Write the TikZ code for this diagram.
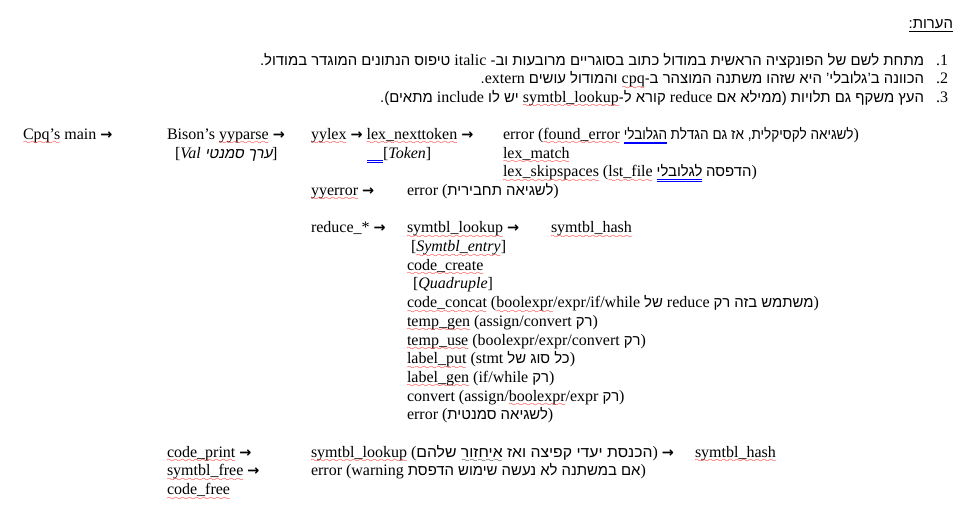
\documentclass[tikz,border=0pt]{standalone}
\usepackage{fontspec}
\setmainfont{Liberation Serif}
\newfontfamily\hebfont[Script=Hebrew,Scale=0.93]{Liberation Sans}
\newfontfamily\hebitfont[Script=Hebrew,Scale=0.93,FakeSlant=0.2]{Liberation Sans}
\newfontfamily\symfont{DejaVu Sans}
\TeXXeTstate=1
\font\wavefont=lasy6
\newdimen\markw
\newcommand\heb[1]{{\hebfont\beginR #1\endR}}
\newcommand\lat[1]{{\rmfamily\beginL #1\endL}}
\newcommand\arr{{\symfont\bfseries\scalebox{0.9}{→}}}
\newcommand\sq[1]{\leavevmode\setbox0=\hbox{#1}\markw=\wd0 \dp0=1.8pt\vtop{\offinterlineskip\box0\hbox to\markw{\color{red}\xleaders\hbox{\wavefont\char58}\hfil}}}
\newcommand\ulbox[1]{\leavevmode\setbox0=\hbox{#1}\markw=\wd0 \dp0=2pt\vtop{\offinterlineskip\box0\hrule width\markw height0.5pt}}
\begin{document}
\begin{tikzpicture}[x=0.75pt,y=-0.75pt,
  t/.style={anchor=base west,inner sep=0pt,outer sep=0pt,font=\fontsize{12pt}{14pt}\selectfont},
  tr/.style={anchor=base east,inner sep=0pt,outer sep=0pt,font=\fontsize{12pt}{14pt}\selectfont},
  dbl/.style={draw=blue,line width=0.5pt}]
\useasboundingbox[fill=white] (0,0) rectangle (979,529);
\def\rowy#1{\fpeval{139.3+18.7*#1}}
% notes
\node[tr] (head) at (953,28) {\ulbox{\hebfont\beginR הערות\hbox{:}\endR}};
\node[tr] (num1) at (948,65) {.1};
\node[tr] (num2) at (948,83.5) {.2};
\node[tr] (num3) at (948,102) {.3};
\node[tr] (note1) at (924,65) {\heb{מתחת לשם של הפונקציה הראשית במודול כתוב בסוגריים מרובעות וב\hbox{-} \lat{italic} טיפוס הנתונים המוגדר במודול\hbox{.}}};
\node[tr] (note2) at (924,83.5) {\heb{הכוונה ב\hbox{’}גלובלי\hbox{’} היא שזהו משתנה המוצהר ב\hbox{-}\lat{\sq{cpq}} והמודול עושים \lat{extern}\hbox{.}}};
\node[tr] (note3) at (924,102) {\heb{העץ משקף גם תלויות \hbox{(}ממילא אם \lat{reduce} קורא ל\hbox{-}\lat{\sq{symtbl\_lookup}} יש לו \lat{include} מתאים\hbox{)}\hbox{.}}};
% tree
\node[t] (cpq) at (23,\rowy{0}) {\sq{Cpq’s} main \arr};
\node[t] (bison) at (167,\rowy{0}) {Bison’s \sq{yyparse} \arr};
\node[t] (yylex) at (311,\rowy{0}) {\sq{yylex} \arr{} \sq{lex\_nexttoken} \arr};
\node[t] (err1) at (503,\rowy{0}) {error (\sq{found\_error}};
\node[t,xshift=3pt] (glob1) at (err1.base east) {\scalebox{0.91}[1]{\hebfont הגלובלי}};
\node[t,xshift=2.7pt] (err1b) at (glob1.base east) {\scalebox{0.91}[1]{\hebfont\beginR לשגיאה לקסיקלית\hbox{,} אז גם הגדלת\endR})};
\draw[dbl] ([yshift=-1.9pt]glob1.base west) -- ([yshift=-1.9pt]glob1.base east);
\draw[dbl] ([yshift=-3.2pt]glob1.base west) -- ([yshift=-3.2pt]glob1.base east);
\node[t] (val) at (175,\rowy{1}) {[\textit{Val} {\hebitfont\beginR ערך סמנטי\endR}]};
\coordinate (tokl) at (367,\rowy{1});
\coordinate (tokr) at (383,\rowy{1});
\node[t] (tok) at (tokr) {[\textit{Token}]};
\draw[dbl] ([yshift=-1.9pt]tokl) -- ([yshift=-1.9pt]tokr);
\draw[dbl] ([yshift=-3.2pt]tokl) -- ([yshift=-3.2pt]tokr);
\node[t] (lexm) at (503,\rowy{1}) {\sq{lex\_match}};
\node[t] (lexs) at (503,\rowy{2}) {\sq{lex\_skipspaces} (\sq{lst\_file}};
\node[t,xshift=3pt] (glob2) at (lexs.base east) {\hebfont לגלובלי};
\node[t,xshift=2.8pt] (lexsb) at (glob2.base east) {\heb{הדפסה})};
\draw[dbl] ([yshift=-1.9pt]glob2.base west) -- ([yshift=-1.9pt]glob2.base east);
\draw[dbl] ([yshift=-3.2pt]glob2.base west) -- ([yshift=-3.2pt]glob2.base east);
\node[t] (yyerr) at (311,\rowy{3}) {\sq{yyerror} \arr};
\node[t] (err2) at (407,\rowy{3}) {error ({\hebfont\beginR לשגיאה תחבירית\endR})};
\node[t] (red) at (311,\rowy{5}) {reduce\_* \arr};
\node[t] (look1) at (407,\rowy{5}) {\sq{symtbl\_lookup} \arr};
\node[t] (hash1) at (551,\rowy{5}) {\sq{symtbl\_hash}};
\node[t] (ent) at (411,\rowy{6}) {[\textit{\sq{Symtbl\_entry}}]};
\node[t] (create) at (407,\rowy{7}) {\sq{code\_create}};
\node[t] (quad) at (413,\rowy{8}) {[\textit{Quadruple}]};
\node[t] (concat) at (407,\rowy{9}) {\sq{code\_concat} (\sq{boolexpr}/expr/if/while \heb{של} reduce {\hebfont\beginR משתמש בזה רק\endR})};
\node[t] (tgen) at (407,\rowy{10}) {\sq{temp\_gen} (assign/convert \heb{רק})};
\node[t] (tuse) at (407,\rowy{11}) {\sq{temp\_use} (boolexpr/expr/convert \heb{רק})};
\node[t] (lput) at (407,\rowy{12}) {\sq{label\_put} (stmt {\hebfont\beginR כל סוג של\endR})};
\node[t] (lgen) at (407,\rowy{13}) {\sq{label\_gen} (if/while \heb{רק})};
\node[t] (conv) at (407,\rowy{14}) {convert (assign/\sq{boolexpr}/expr \heb{רק})};
\node[t] (err3) at (407,\rowy{15}) {error ({\hebfont\beginR לשגיאה סמנטית\endR})};
\node[t] (cprint) at (167,\rowy{17}) {\sq{code\_print} \arr};
\node[t] (look2) at (311,\rowy{17}) {\sq{symtbl\_lookup} (\scalebox{1.06}[1]{\hebfont\beginR הכנסת יעדי קפיצה ואז \sq{איחזור} שלהם\endR}) \arr};
\node[t] (hash2) at (695,\rowy{17}) {\sq{symtbl\_hash}};
\node[t] (sfree) at (167,\rowy{18}) {\sq{symtbl\_free} \arr};
\node[t] (err4) at (311,\rowy{18}) {error (warning {\hebfont\beginR אם במשתנה לא נעשה שימוש הדפסת\endR})};
\node[t] (cfree) at (167,\rowy{19}) {\sq{code\_free}};
\end{tikzpicture}
\end{document}
